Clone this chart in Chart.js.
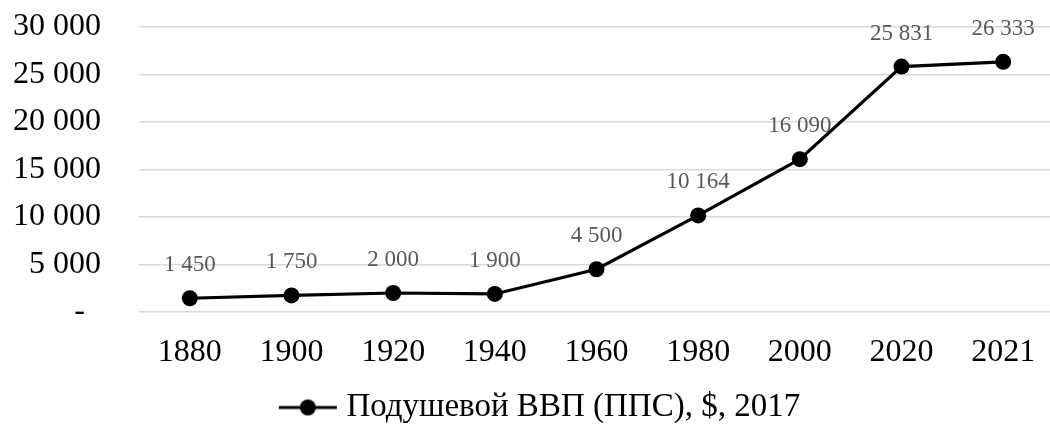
<!DOCTYPE html>
<html>
<head>
<meta charset="utf-8">
<script src="https://cdn.jsdelivr.net/npm/chart.js@4/dist/chart.umd.min.js"></script>
<style>
html,body{margin:0;padding:0;background:#fff;overflow:hidden;}
#wrap{width:1062px;height:430px;}
</style>
</head>
<body>
<div id="wrap"><canvas id="c" width="1062" height="430"></canvas></div>
<script>
const years = ['1880','1900','1920','1940','1960','1980','2000','2020','2021'];
const gdpPerCapita = [1450, 1750, 2000, 1900, 4500, 10164, 16090, 25831, 26333];
const seriesName = 'Подушевой ВВП (ППС), $, 2017';
const yTickValues = [0, 5000, 10000, 15000, 20000, 25000, 30000];

const FONT = '"Liberation Serif", "Times New Roman", serif';
function fmt(v){ return String(Math.round(v)).replace(/\B(?=(\d{3})+(?!\d))/g, ' '); }

// legend marker image: line with a dot (left part transparent to nudge legend right)
const mk = document.createElement('canvas');
mk.width = 84; mk.height = 20;
(function(){
  const g = mk.getContext('2d');
  g.strokeStyle = '#000'; g.lineWidth = 3;
  g.beginPath(); g.moveTo(25,10); g.lineTo(83,10); g.stroke();
  g.fillStyle = '#000'; g.beginPath(); g.arc(54,10,8,0,Math.PI*2); g.fill();
})();

const dataLabels = {
  id: 'dataLabels',
  afterDatasetsDraw(chart){
    const ctx = chart.ctx;
    const meta = chart.getDatasetMeta(0);
    ctx.save();
    ctx.font = '23px ' + FONT;
    ctx.fillStyle = '#595959';
    ctx.textAlign = 'center';
    ctx.textBaseline = 'middle';
    meta.data.forEach((pt, i) => {
      ctx.fillText(fmt(gdpPerCapita[i]), pt.x, pt.y - 33);
    });
    ctx.restore();
  }
};

new Chart(document.getElementById('c'), {
  type: 'line',
  data: {
    labels: years,
    datasets: [{
      label: seriesName,
      data: gdpPerCapita,
      borderColor: '#000',
      backgroundColor: '#000',
      borderWidth: 3.2,
      pointRadius: 8,
      pointBackgroundColor: '#000',
      pointBorderWidth: 0,
      tension: 0
    }]
  },
  options: {
    responsive: false,
    animation: false,
    layout: { padding: { top: 27, right: 0, left: 0, bottom: -4 } },
    plugins: {
      tooltip: { enabled: false },
      legend: {
        position: 'bottom',
        labels: {
          font: { family: FONT, size: 33 },
          color: '#000',
          usePointStyle: true,
          pointStyleWidth: 68,
          padding: 8,
          generateLabels(chart){
            return [{ text: seriesName, pointStyle: mk, fillStyle: '#000', strokeStyle: '#000', lineWidth: 0, datasetIndex: 0, fontColor: '#000' }];
          }
        }
      }
    },
    scales: {
      x: {
        offset: true,
        grid: { display: false },
        border: { display: false },
        ticks: { font: { family: FONT, size: 32 }, color: '#000', padding: 13, maxRotation: 0 },
        afterFit(s){ s.height = 71; }
      },
      y: {
        min: 0, max: 30000,
        afterBuildTicks(s){ s.ticks = yTickValues.map(v => ({ value: v })); },
        grid: { color: '#d9d9d9', lineWidth: 1.5, drawTicks: false },
        border: { display: false },
        ticks: {
          font: { family: FONT, size: 32 }, color: '#000', padding: 38,
          callback: v => v === 0 ? '-  ' : fmt(v)
        },
        afterFit(s){ s.width = 139; s.paddingTop = 10; s.paddingBottom = 10; }
      }
    }
  },
  plugins: [dataLabels]
});
</script>
</body>
</html>
